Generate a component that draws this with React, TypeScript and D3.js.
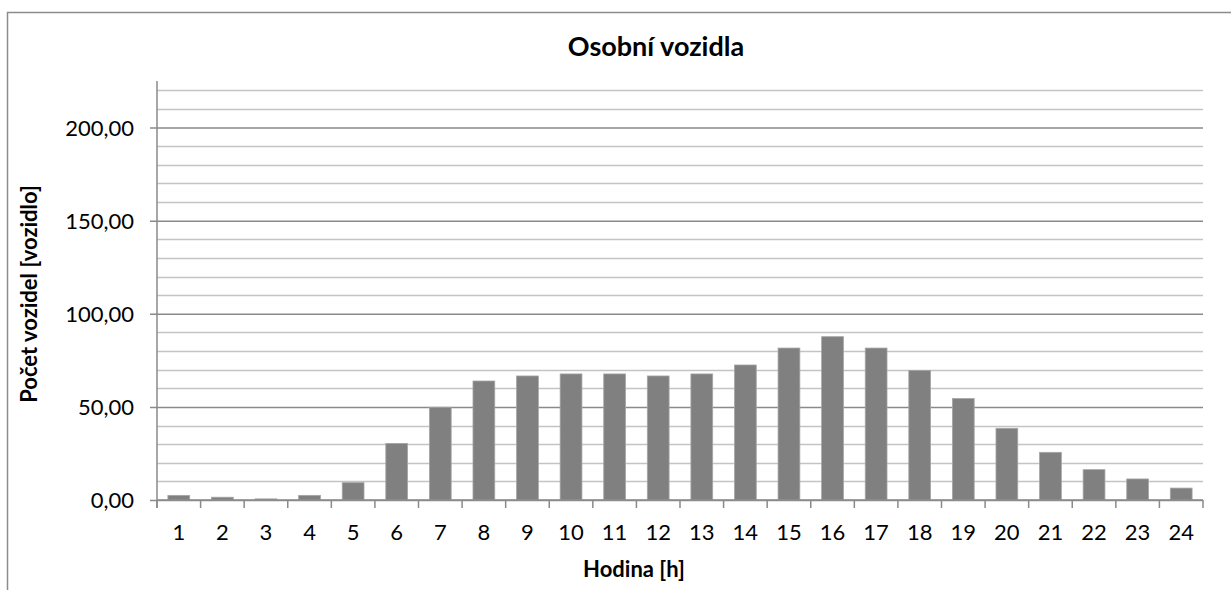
import React, { useEffect, useRef } from "react";
import * as d3 from "d3";

const hours = ["1", "2", "3", "4", "5", "6", "7", "8", "9", "10", "11", "12",
  "13", "14", "15", "16", "17", "18", "19", "20", "21", "22", "23", "24"];
const vehicles = [2.5, 1.5, 0.6, 2.5, 9.3, 30.4, 49.8, 63.9, 66.6, 67.7, 67.7, 66.6,
  67.7, 72.5, 81.6, 87.7, 81.6, 69.6, 54.5, 38.5, 25.6, 16.3, 11.3, 6.4];
const majorTicks = [0, 50, 100, 150, 200];
const minorTicks = d3.range(10, 230, 10);

const title = "Osobní vozidla";
const yTitle = "Počet vozidel [vozidlo]";
const xTitle = "Hodina [h]";

function App() {
  const svgRef = useRef<SVGSVGElement>(null);

  useEffect(() => {
    const W = 1231;
    const H = 590;
    const plot = { left: 157, right: 1203, top: 81, bottom: 500 };
    const font = "Lato, 'Open Sans', sans-serif";

    const svg = d3.select(svgRef.current).attr("width", W).attr("height", H);
    svg.selectAll("*").remove();

    // outer chart frame (runs off the right and bottom edges)
    svg.append("rect")
      .attr("x", 7.5).attr("y", 12.5)
      .attr("width", 1270).attr("height", 640)
      .attr("fill", "white").attr("stroke", "#8c8c8c").attr("stroke-width", 1.5);

    const x = d3.scaleBand<string>()
      .domain(hours)
      .range([plot.left, plot.right])
      .paddingInner(0.5)
      .paddingOuter(0.25);
    const y = d3.scaleLinear().domain([0, 225]).range([plot.bottom, plot.top]);

    // minor gridlines
    svg.append("g")
      .selectAll("line")
      .data(minorTicks.filter((t) => t % 50 !== 0))
      .join("line")
      .attr("x1", plot.left).attr("x2", plot.right)
      .attr("y1", (d) => Math.round(y(d)) + 0.5).attr("y2", (d) => Math.round(y(d)) + 0.5)
      .attr("stroke", "#c4c4c4").attr("stroke-width", 1.5);

    // major gridlines + y axis
    const yAxis = d3.axisLeft(y)
      .tickValues(majorTicks)
      .tickSize(-(plot.right - plot.left))
      .tickFormat((d) => d3.format(".2f")(d as number).replace(".", ","));
    const gy = svg.append("g").attr("transform", `translate(${plot.left},0)`).call(yAxis);
    gy.select(".domain").remove();
    gy.selectAll(".tick line").attr("stroke", "#8a8a8a").attr("stroke-width", 1.5).attr("x1", -7);
    gy.selectAll(".tick text")
      .attr("x", -23)
      .attr("font-family", font).attr("font-size", 22).attr("fill", "#000")
      .attr("dy", "0.36em");

    // bars
    svg.append("g")
      .selectAll("rect")
      .data(vehicles)
      .join("rect")
      .attr("x", (d, i) => x(hours[i])!)
      .attr("width", x.bandwidth())
      .attr("y", (d) => y(d))
      .attr("height", (d) => y(0) - y(d))
      .attr("fill", "#808080")
      .attr("stroke", "#a6a6a6").attr("stroke-width", 0.8);

    // left axis line
    svg.append("line")
      .attr("x1", plot.left).attr("x2", plot.left)
      .attr("y1", plot.top).attr("y2", plot.bottom + 8)
      .attr("stroke", "#8a8a8a").attr("stroke-width", 1.5);

    // x axis line, tick marks between categories
    svg.append("line")
      .attr("x1", plot.left).attr("x2", plot.right)
      .attr("y1", plot.bottom).attr("y2", plot.bottom)
      .attr("stroke", "#8a8a8a").attr("stroke-width", 1.5);
    const step = x.step();
    svg.append("g")
      .selectAll("line")
      .data(d3.range(hours.length + 1))
      .join("line")
      .attr("x1", (i) => plot.left + i * step).attr("x2", (i) => plot.left + i * step)
      .attr("y1", plot.bottom).attr("y2", plot.bottom + 8)
      .attr("stroke", "#8a8a8a").attr("stroke-width", 1.5);

    svg.append("g")
      .selectAll("text")
      .data(hours)
      .join("text")
      .attr("x", (d) => x(d)! + x.bandwidth() / 2)
      .attr("y", 540)
      .attr("text-anchor", "middle")
      .attr("font-family", font).attr("font-size", 22).attr("fill", "#000")
      .text((d) => d);

    // titles
    svg.append("text")
      .attr("x", 656).attr("y", 56)
      .attr("text-anchor", "middle")
      .attr("font-family", font).attr("font-size", 27).attr("font-weight", "bold")
      .text(title);

    svg.append("text")
      .attr("x", 634).attr("y", 577)
      .attr("text-anchor", "middle")
      .attr("font-family", font).attr("font-size", 22).attr("font-weight", "bold")
      .text(xTitle);

    svg.append("text")
      .attr("transform", "translate(37,294) rotate(-90)")
      .attr("text-anchor", "middle")
      .attr("font-family", font).attr("font-size", 22).attr("font-weight", "bold")
      .text(yTitle);
  }, []);

  return (
    <svg ref={svgRef} style={{ position: "absolute", left: 0, top: 0 }}></svg>
  );
}

export default App;
